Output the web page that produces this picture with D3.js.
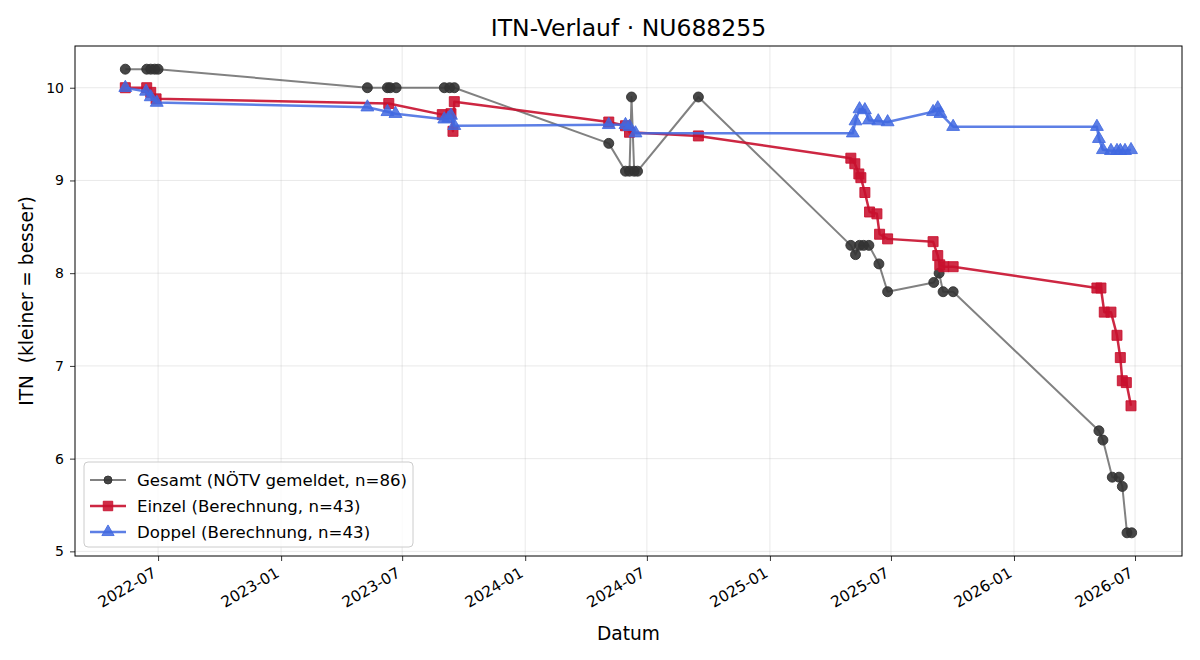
<!DOCTYPE html>
<html><head><meta charset="utf-8">
<script src="https://cdn.jsdelivr.net/npm/d3@7"></script>
<style>body{margin:0;background:#fff}svg{font-family:"DejaVu Sans",sans-serif}svg text{font-family:"DejaVu Sans",sans-serif;white-space:pre}</style>
</head><body><svg id="c" width="1200" height="660"></svg>
<script>
const titleText = "ITN-Verlauf · NU688255";
const xLabel = "Datum";
const yLabel = "ITN  (kleiner = besser)";
const yTicks = [5,6,7,8,9,10];
const xTickDates = ["2022-07-01","2023-01-01","2023-07-01","2024-01-01","2024-07-01","2025-01-01","2025-07-01","2026-01-01","2026-07-01"];
const seriesNames = ["Gesamt (NÖTV gemeldet, n=86)","Einzel (Berechnung, n=43)","Doppel (Berechnung, n=43)"];

const gesamtDates = ["2022-05-13","2022-06-14","2022-06-20","2022-06-26","2022-07-01","2023-05-10","2023-06-09","2023-06-13","2023-06-22","2023-09-02","2023-09-10","2023-09-17","2024-05-05","2024-05-30","2024-06-05","2024-06-08","2024-06-12","2024-06-17","2024-09-16","2025-05-02","2025-05-09","2025-05-15","2025-05-21","2025-05-29","2025-06-13","2025-06-26","2025-09-03","2025-09-11","2025-09-17","2025-10-02","2026-05-08","2026-05-14","2026-05-28","2026-06-07","2026-06-12","2026-06-19","2026-06-26"];
const gesamtValues = [10.2,10.2,10.2,10.2,10.2,10.0,10.0,10.0,10.0,10.0,10.0,10.0,9.4,9.1,9.1,9.9,9.1,9.1,9.9,8.3,8.2,8.3,8.3,8.3,8.1,7.8,7.9,8.0,7.8,7.8,6.3,6.2,5.8,5.8,5.7,5.2,5.2];

const einzelDates = ["2022-05-13","2022-06-14","2022-06-20","2022-06-28","2023-06-11","2023-08-30","2023-09-12","2023-09-15","2023-09-17","2024-05-05","2024-05-30","2024-06-05","2024-09-16","2025-05-02","2025-05-08","2025-05-14","2025-05-17","2025-05-23","2025-05-30","2025-06-10","2025-06-14","2025-06-26","2025-09-02","2025-09-09","2025-09-12","2025-09-18","2025-10-02","2026-05-05","2026-05-11","2026-05-16","2026-05-26","2026-06-04","2026-06-09","2026-06-12","2026-06-18","2026-06-25"];
const einzelValues = [10.0,10.0,9.95,9.88,9.83,9.71,9.72,9.53,9.85,9.63,9.59,9.52,9.48,9.24,9.18,9.07,9.03,8.87,8.66,8.64,8.42,8.37,8.34,8.19,8.09,8.07,8.07,7.84,7.84,7.58,7.58,7.33,7.09,6.84,6.82,6.57];

const doppelDates = ["2022-05-13","2022-06-13","2022-06-20","2022-06-29","2023-05-10","2023-06-09","2023-06-21","2023-09-02","2023-09-08","2023-09-12","2023-09-17","2024-05-05","2024-05-30","2024-06-05","2024-06-14","2025-05-05","2025-05-09","2025-05-15","2025-05-23","2025-05-29","2025-06-12","2025-06-26","2025-09-02","2025-09-09","2025-09-13","2025-10-02","2026-05-05","2026-05-08","2026-05-14","2026-05-26","2026-06-04","2026-06-09","2026-06-16","2026-06-25"];
const doppelValues = [10.0,9.96,9.9,9.84,9.79,9.74,9.72,9.66,9.67,9.70,9.59,9.6,9.6,9.58,9.51,9.51,9.64,9.77,9.76,9.65,9.64,9.63,9.74,9.78,9.72,9.58,9.58,9.45,9.33,9.32,9.32,9.32,9.32,9.33];

const parse = d3.utcParse("%Y-%m-%d");
const mk = (ds, vs) => ds.map((d,i)=>({date:parse(d), value:vs[i]}));
const series = [
  {name:seriesNames[0], data:mk(gesamtDates,gesamtValues), line:"#333", lineOp:0.62, lw:2, fill:"#333", op:0.9, sym:d3.symbolCircle, size:78, lsize:50},
  {name:seriesNames[1], data:mk(einzelDates,einzelValues), line:"#c8102e", lineOp:0.9, lw:2.5, fill:"#c8102e", op:0.88, sym:d3.symbolSquare, size:100, lsize:90},
  {name:seriesNames[2], data:mk(doppelDates,doppelValues), line:"#4169e1", lineOp:0.85, lw:2.5, fill:"#4169e1", op:0.85, sym:d3.symbolTriangle, size:72, lsize:65}
];

const L=75, R=1182, T=46, B=556;
const svg = d3.select("#c");
const all = series.flatMap(s=>s.data);
const xe = d3.extent(all, d=>+d.date), ye = d3.extent(all, d=>d.value);
const xp = (xe[1]-xe[0])*0.05, yp=(ye[1]-ye[0])*0.05;
const x = d3.scaleUtc().domain([new Date(xe[0]-xp), new Date(xe[1]+xp)]).range([L,R]);
const y = d3.scaleLinear().domain([ye[0]-yp, ye[1]+yp]).range([B,T]);

// grid
const xt = xTickDates.map(parse);
svg.append("g").selectAll("line").data(xt).join("line")
  .attr("x1",d=>x(d)).attr("x2",d=>x(d)).attr("y1",T).attr("y2",B)
  .attr("stroke","#b0b0b0").attr("stroke-opacity",0.35).attr("stroke-width",0.8);
svg.append("g").selectAll("line").data(yTicks).join("line")
  .attr("x1",L).attr("x2",R).attr("y1",d=>y(d)).attr("y2",d=>y(d))
  .attr("stroke","#b0b0b0").attr("stroke-opacity",0.35).attr("stroke-width",0.8);

// axes
const xAxis = svg.append("g").attr("transform",`translate(0,${B})`)
  .call(d3.axisBottom(x).tickValues(xt).tickFormat(d3.utcFormat("%Y-%m")).tickSize(5).tickSizeOuter(0));
xAxis.attr("font-size",null).attr("font-family",null);
xAxis.select(".domain").remove();
xAxis.selectAll("line").attr("stroke","#000").attr("stroke-width",0.8);
xAxis.selectAll("text").style("font-size","15.3px").attr("fill","#000")
  .attr("text-anchor","end").attr("y",0).attr("dy","0.75em")
  .attr("transform","translate(-7,10) rotate(-30)");
const yAxis = svg.append("g").attr("transform",`translate(${L},0)`)
  .call(d3.axisLeft(y).tickValues(yTicks).tickFormat(d3.format("d")).tickSize(5).tickSizeOuter(0));
yAxis.attr("font-size",null).attr("font-family",null);
yAxis.select(".domain").remove();
yAxis.selectAll("line").attr("stroke","#000").attr("stroke-width",0.8);
yAxis.selectAll("text").style("font-size","14px").attr("fill","#000").attr("x",-11);

// lines and markers
const line = d3.line().x(d=>x(d.date)).y(d=>y(d.value));
series.forEach(s=>{
  svg.append("path").datum(s.data).attr("d",line).attr("fill","none")
    .attr("stroke",s.line).attr("stroke-opacity",s.lineOp).attr("stroke-width",s.lw).attr("stroke-linejoin","round");
  const sym = d3.symbol().type(s.sym).size(s.size);
  svg.append("g").selectAll("path").data(s.data).join("path")
    .attr("d",sym).attr("transform",d=>`translate(${x(d.date)},${y(d.value)})`)
    .attr("fill",s.fill).attr("fill-opacity",s.op).attr("stroke",s.fill).attr("stroke-opacity",s.op).attr("stroke-width",1);
});

// frame
svg.append("rect").attr("x",L).attr("y",T).attr("width",R-L).attr("height",B-T)
  .attr("fill","none").attr("stroke","#000").attr("stroke-width",1);

// title & labels
svg.append("text").attr("x",(L+R)/2).attr("y",36).attr("text-anchor","middle").style("font-size","23.5px").text(titleText);
svg.append("text").attr("x",(L+R)/2).attr("y",640).attr("text-anchor","middle").style("font-size","18.6px").text(xLabel);
svg.append("text").attr("transform",`translate(33,${(T+B)/2}) rotate(-90)`).attr("text-anchor","middle").style("font-size","18.6px").text(yLabel);

// legend
const lg = svg.append("g").attr("transform","translate(84,462)");
lg.append("rect").attr("width",329).attr("height",85).attr("rx",4)
  .attr("fill","#fff").attr("fill-opacity",0.8).attr("stroke","#ccc");
series.forEach((s,i)=>{
  const yy = 18 + i*26;
  lg.append("line").attr("x1",6).attr("x2",42).attr("y1",yy).attr("y2",yy)
    .attr("stroke",s.line).attr("stroke-opacity",s.lineOp).attr("stroke-width",s.lw);
  lg.append("path").attr("d",d3.symbol().type(s.sym).size(s.lsize)).attr("transform",`translate(24,${yy})`)
    .attr("fill",s.fill).attr("fill-opacity",s.op).attr("stroke",s.fill).attr("stroke-opacity",s.op);
  lg.append("text").attr("x",53).attr("y",yy).attr("dy","0.35em").style("font-size","16.6px").text(s.name);
});
</script></body></html>
